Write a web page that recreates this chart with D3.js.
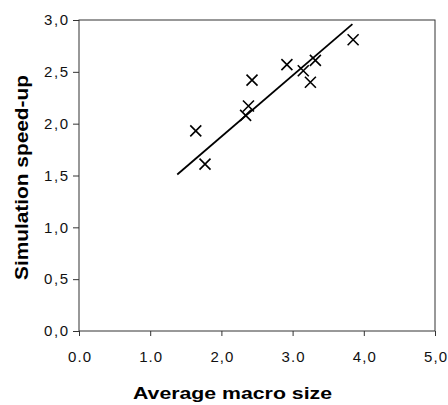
<!DOCTYPE html>
<html>
<head>
<meta charset="utf-8">
<script src="https://cdn.jsdelivr.net/npm/d3@7"></script>
<style>
  body { margin: 0; background: #fff; }
  text { font-family: "Liberation Sans", Arial, sans-serif; }
</style>
</head>
<body>
<div id="chart"></div>
<script>
// average macro size vs simulation speed-up
const macroSize = [1.64, 1.77, 2.43, 2.38, 2.34, 2.92, 3.15, 3.32, 3.25, 3.85];
const speedUp = [1.93, 1.61, 2.42, 2.17, 2.08, 2.57, 2.51, 2.61, 2.40, 2.81];
// trend line end points
const trendX = [1.38, 3.84];
const trendY = [1.51, 2.96];
const xTicks = [0, 1, 2, 3, 4, 5];
const xTickLabels = ['0.0', '1.0', '2,0', '3.0', '4,0', '5,0'];
const yTicks = [0, 0.5, 1, 1.5, 2, 2.5, 3];
const yTickLabels = ['0,0', '0,5', '1,0', '1,5', '2,0', '2,5', '3,0'];

const width = 448, height = 405;
const margin = { top: 20, right: 13, bottom: 74, left: 79 };
const w = width - margin.left - margin.right;
const h = height - margin.top - margin.bottom;

const svg = d3.select('#chart')
    .append('svg')
    .attr('width', width)
    .attr('height', height);

const g = svg.append('g')
    .attr('transform', `translate(${margin.left},${margin.top})`);

const x = d3.scaleLinear().domain([0, 5]).range([0, w]);
const y = d3.scaleLinear().domain([0, 3]).range([h, 0]);

// frame
g.append('rect')
    .attr('width', w)
    .attr('height', h)
    .attr('fill', 'none')
    .attr('stroke', '#333')
    .attr('stroke-width', 1);

const xAxis = g.append('g')
    .attr('transform', `translate(0,${h})`)
    .call(d3.axisBottom(x).tickValues(xTicks).tickSize(5).tickPadding(15)
        .tickFormat((d, i) => xTickLabels[i]));
xAxis.select('.domain').remove();

const yAxis = g.append('g')
    .call(d3.axisLeft(y).tickValues(yTicks).tickSize(6).tickPadding(5)
        .tickFormat((d, i) => yTickLabels[i]));
yAxis.select('.domain').remove();

svg.selectAll('.tick text')
    .style('font-size', '15px')
    .attr('fill', '#111');
xAxis.selectAll('.tick text').attr('textLength', 23);
yAxis.selectAll('.tick text').attr('textLength', 24);
svg.selectAll('.tick line').attr('stroke', '#333');

// trend line
g.append('line')
    .attr('x1', x(trendX[0]))
    .attr('y1', y(trendY[0]))
    .attr('x2', x(trendX[1]))
    .attr('y2', y(trendY[1]))
    .attr('stroke', '#000')
    .attr('stroke-width', 1.8);

// x markers
const s = 5.5;
const pts = macroSize.map((d, i) => [d, speedUp[i]]);
g.selectAll('.pt')
    .data(pts)
    .enter()
    .append('path')
    .attr('class', 'pt')
    .attr('d', d => {
        const px = x(d[0]), py = y(d[1]);
        return `M${px - s},${py - s}L${px + s},${py + s}M${px - s},${py + s}L${px + s},${py - s}`;
    })
    .attr('stroke', '#000')
    .attr('stroke-width', 1.6)
    .attr('fill', 'none');

svg.append('text')
    .attr('x', 133)
    .attr('y', 398.5)
    .attr('textLength', 199)
    .attr('lengthAdjust', 'spacingAndGlyphs')
    .style('font-size', '16.5px')
    .style('font-weight', 'bold')
    .text('Average macro size');

svg.append('text')
    .attr('transform', `translate(28,177.5) rotate(-90)`)
    .attr('text-anchor', 'middle')
    .attr('textLength', 205)
    .attr('lengthAdjust', 'spacingAndGlyphs')
    .style('font-size', '18px')
    .style('font-weight', 'bold')
    .text('Simulation speed-up');
</script>
</body>
</html>
